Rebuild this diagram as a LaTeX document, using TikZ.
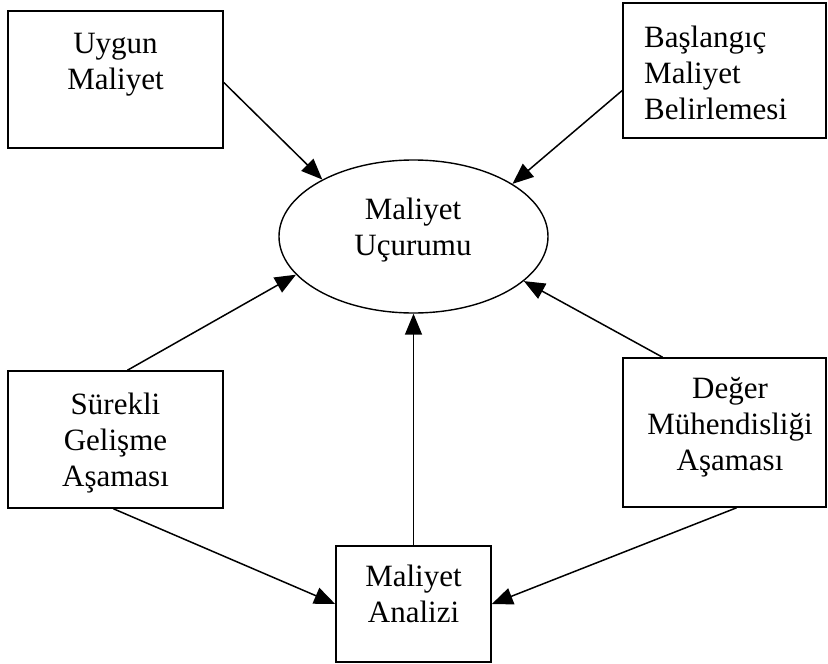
\documentclass[tikz,border=0pt]{standalone}
\usepackage{fontspec}
\setmainfont{Liberation Serif}
\usetikzlibrary{arrows.meta,shapes.geometric,calc}
\begin{document}
\begin{tikzpicture}[x=1pt,y=-1pt,
  box/.style={draw,line width=1.6pt,rectangle,inner sep=0pt},
  oval/.style={draw,line width=1.4pt,ellipse,inner sep=0pt},
  txt/.style={inner sep=0pt,font=\fontsize{31}{36}\selectfont},
  flow/.style={line width=1.5pt,-{Triangle[length=21pt,width=17pt]}}]
\useasboundingbox (0,0) rectangle (828,664);

% frames
\node[box,minimum width=215pt,minimum height=137pt] (uygun) at (115.5,79.5) {};
\node[box,minimum width=203pt,minimum height=135pt] (bas) at (724.5,70.5) {};
\node[oval,minimum width=269pt,minimum height=153pt] (gap) at (413.5,236.5) {};
\node[box,minimum width=215pt,minimum height=137pt] (sur) at (115.5,439.5) {};
\node[box,minimum width=203pt,minimum height=149pt] (deg) at (724.5,432.5) {};
\node[box,minimum width=155pt,minimum height=116pt] (ana) at (413.5,604) {};

% labels
\node[txt,align=center] (tuygun) at (115.5,65) {Uygun\\Maliyet};
\node[txt,align=left,anchor=west] (tbas) at (644,72.5) {Başlangıç\\Maliyet\\Belirlemesi};
\node[txt,align=center] (tgap) at (413,230.5) {Maliyet\\Uçurumu};
\node[txt,align=center] (tsur) at (115.5,443) {Sürekli\\Gelişme\\Aşaması};
\node[txt,align=center] (tdeg) at (730,427) {Değer\\Mühendisliği\\Aşaması};
\node[txt,align=center] (tana) at (413.5,594) {Maliyet\\Analizi};

% connectors
\draw[flow] ($(uygun.east)+(0,3)$) -- (gap.148);
\draw[flow] ($(bas.west)+(0,20)$) -- (gap.28);
\draw[flow] ($(sur.north)+(12,0)$) -- (gap.198);
\draw[flow] ($(deg.north)+(-62,0)$) -- (gap.338);
\draw[flow] (ana.north) -- (gap.south);
\draw[flow] ($(sur.south)+(-2,0)$) -- (ana.west);
\draw[flow] ($(deg.south)+(12,0)$) -- (ana.east);
\end{tikzpicture}
\end{document}
